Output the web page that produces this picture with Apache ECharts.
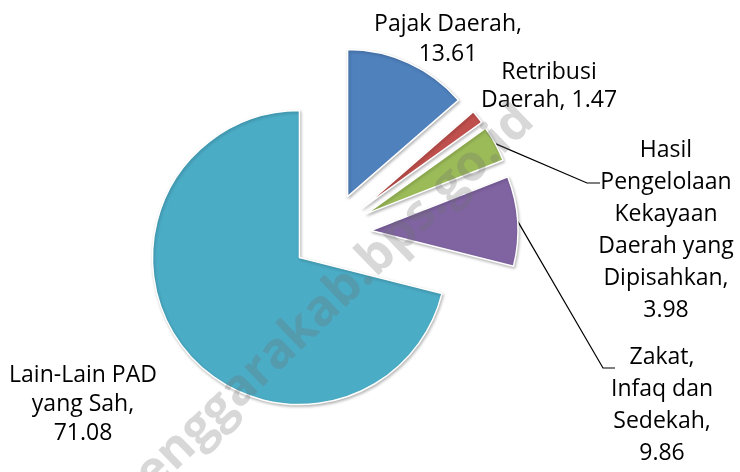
<!DOCTYPE html>
<html>
<head>
<meta charset="utf-8">
<script src="https://cdn.jsdelivr.net/npm/echarts@6/dist/echarts.min.js"></script>
<style>
  html, body { margin: 0; padding: 0; background: #ffffff; }
  #chart { width: 740px; height: 472px; }
</style>
</head>
<body>
<div id="chart"></div>
<script>
var categories = ['Pajak Daerah', 'Retribusi Daerah', 'Hasil Pengelolaan Kekayaan Daerah yang Dipisahkan', 'Zakat, Infaq dan Sedekah', 'Lain-Lain PAD yang Sah'];
var values = [13.61, 1.47, 3.98, 9.86, 71.08];
// label text as broken in the picture, value appended
var labelNames = ['Pajak Daerah,\n', 'Retribusi\nDaerah, ', 'Hasil\nPengelolaan\nKekayaan\nDaerah yang\nDipisahkan,\n', 'Zakat,\nInfaq dan\nSedekah,\n', 'Lain-Lain PAD\nyang Sah,\n'];
var colors = ['#4f81bd', '#c0504d', '#9bbb59', '#8064a2', '#4bacc6'];

// label centres and leader elbows (label placement only)
var labelSpots = [[448, 39], [549, 86], [666, 230], [662, 405], [83, 404]];
var labelLineHeights = [30, 28, 32, 32, 29];
var elbows = [null, null, [[587, 183], [600, 183]], [[603, 368], [615, 368]], null];

var pieCenter = [331, 233];
var pieRadius = 147;
var explode = 40;

(function () {
  var chart = echarts.init(document.getElementById('chart'));

  // slices, all pulled out
  var sliceData = values.map(function (v, i) {
    return { name: categories[i], value: v, selected: true, itemStyle: { color: colors[i] } };
  });

  // same values again, invisible, carrying the labels
  var labelData = values.map(function (v, i) {
    return {
      name: categories[i],
      value: v,
      label: { lineHeight: labelLineHeights[i] },
      labelLine: { show: !!elbows[i] }
    };
  });

  chart.setOption({
    animation: false,
    backgroundColor: '#ffffff',
    series: [{
      type: 'pie',
      center: pieCenter,
      radius: pieRadius,
      startAngle: 90,
      clockwise: true,
      selectedMode: 'multiple',
      selectedOffset: explode,
      emphasis: { disabled: true },
      itemStyle: {
        borderColor: '#ffffff',
        borderWidth: 1.5,
        shadowColor: 'rgba(0,0,0,0.25)',
        shadowBlur: 3,
        shadowOffsetX: 1,
        shadowOffsetY: 1.5
      },
      label: { show: false },
      labelLine: { show: false },
      data: sliceData
    }, {
      type: 'pie',
      center: pieCenter,
      radius: pieRadius,
      startAngle: 90,
      clockwise: true,
      silent: true,
      avoidLabelOverlap: false,
      emphasis: { disabled: true },
      itemStyle: { color: 'rgba(0,0,0,0)', borderWidth: 0 },
      label: {
        show: true,
        position: 'outside',
        color: '#000000',
        fontFamily: 'Open Sans',
        fontSize: 23,
        align: 'center',
        formatter: function (p) {
          return labelNames[p.dataIndex] + p.value.toFixed(2);
        }
      },
      labelLine: {
        show: false,
        lineStyle: { color: '#000000', width: 1.2 }
      },
      labelLayout: function (p) {
        var spot = labelSpots[p.dataIndex];
        var out = { x: spot[0], y: spot[1], align: 'center', verticalAlign: 'middle' };
        var elbow = elbows[p.dataIndex];
        if (elbow && p.labelLinePoints) {
          // start the leader on the pulled-out slice edge
          var p0 = p.labelLinePoints[0];
          var vx = p0[0] - pieCenter[0];
          var vy = p0[1] - pieCenter[1];
          var len = Math.sqrt(vx * vx + vy * vy);
          var k = (len + explode) / len;
          out.labelLinePoints = [[pieCenter[0] + vx * k, pieCenter[1] + vy * k]].concat(elbow);
        }
        return out;
      },
      data: labelData
    }],
    graphic: [{
      type: 'text',
      x: 526,
      y: 113,
      rotation: 44 * Math.PI / 180,
      z: 100,
      silent: true,
      style: {
        text: 'tenggarakab.bps.go.id',
        font: 'bold 50px "Open Sans"',
        fill: 'rgba(110,110,110,0.27)',
        textAlign: 'right',
        textVerticalAlign: 'middle'
      }
    }]
  });
})();
</script>
</body>
</html>
